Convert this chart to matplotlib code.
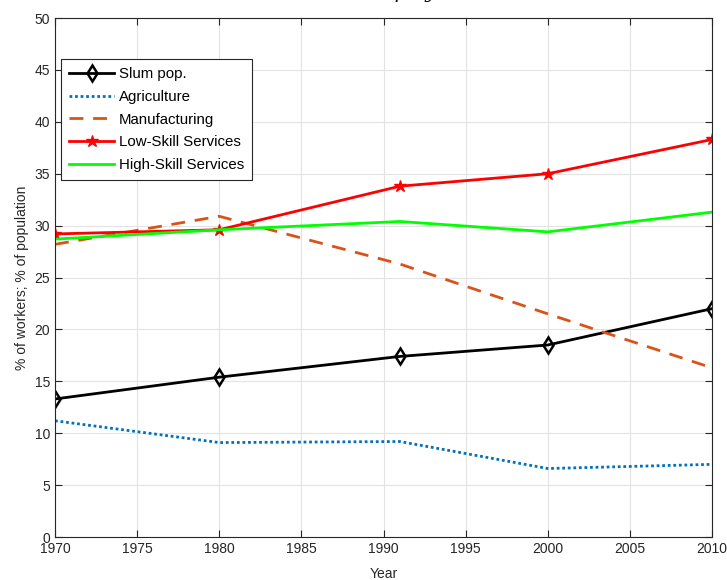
import matplotlib.pyplot as plt
import numpy as np

plt.rcParams['font.family'] = ['Liberation Sans', 'DejaVu Sans']

years = [1970, 1980, 1991, 2000, 2010]
slum = [13.3, 15.4, 17.4, 18.5, 22.0]
agriculture = [11.2, 9.1, 9.2, 6.6, 7.0]
manufacturing = [28.2, 30.9, 26.3, 21.5, 16.3]
low_skill = [29.2, 29.6, 33.8, 35.0, 38.3]
high_skill = [28.7, 29.6, 30.4, 29.4, 31.3]

fig = plt.figure(figsize=(7.27, 5.8), dpi=100)
ax = fig.add_axes([0.0757, 0.0741, 0.9037, 0.8948])

ax.plot(years, slum, color='black', lw=2, marker='d', ms=8, mfc='none', mew=1.8, label='Slum pop.')
ax.plot(years, agriculture, color='#0072BD', lw=2, ls=(0, (1, 1)), label='Agriculture')
ax.plot(years, manufacturing, color='#D95319', lw=2, ls=(0, (5, 3.5)), label='Manufacturing')
ax.plot(years, low_skill, color='red', lw=2, marker='*', ms=9, label='Low-Skill Services')
ax.plot(years, high_skill, color='#00FF00', lw=2, label='High-Skill Services')

ax.set_xlim(1970, 2010)
ax.set_ylim(0, 50)
ax.set_xticks(np.arange(1970, 2011, 5))
ax.set_yticks(np.arange(0, 51, 5))
ax.grid(True, color='#e3e3e3', lw=0.8)
ax.set_axisbelow(True)
ax.tick_params(direction='in', top=True, right=True, labelsize=10, colors='#262626', length=5)
for s in ax.spines.values():
    s.set_color('#262626')
    s.set_linewidth(0.8)

ax.set_xlabel('Year', fontsize=10, color='#262626', labelpad=8)
ax.set_ylabel('% of workers; % of population', fontsize=10, color='#262626', labelpad=4)

leg = ax.legend(loc='upper left', bbox_to_anchor=(0.009, 0.921), borderaxespad=0,
                fontsize=10.8, fancybox=False, edgecolor='#262626', framealpha=1,
                handlelength=3.0, borderpad=0.55, labelspacing=0.58, handletextpad=0.3)
leg.get_frame().set_linewidth(0.8)

fig.text(0.66, 1.003, 'Employment and Slums', ha='center', va='baseline', fontsize=14,
         family='DejaVu Serif', style='italic')

fig.savefig('out.png', dpi=100)
